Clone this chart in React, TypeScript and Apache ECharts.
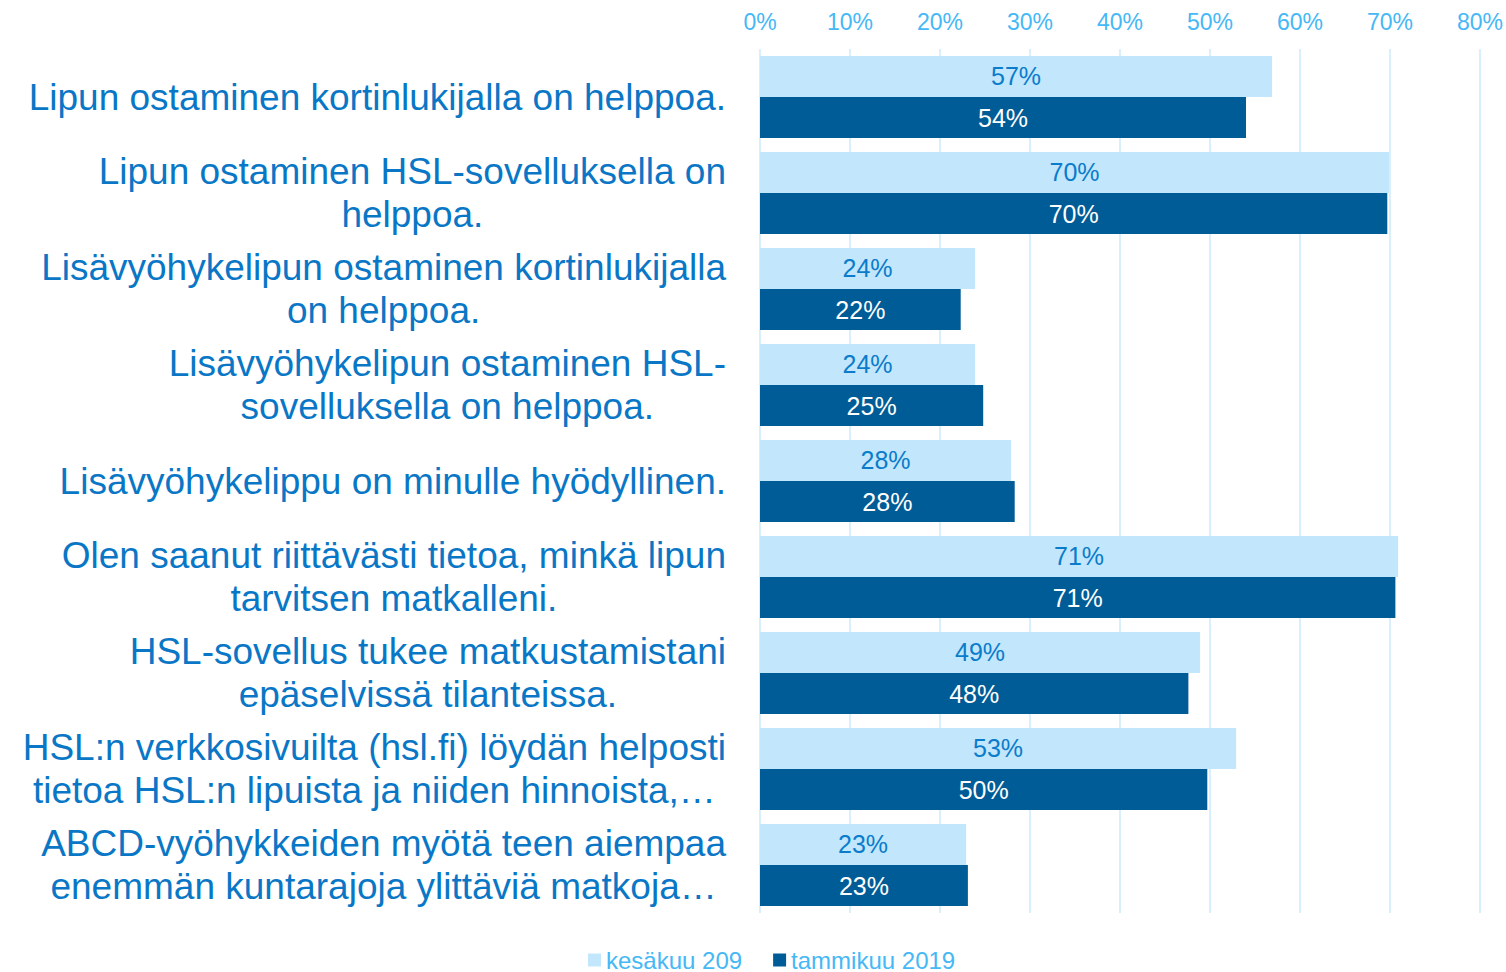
import React, { useEffect, useRef } from "react";
import * as echarts from "echarts";

const categories = [
  "Lipun ostaminen kortinlukijalla on helppoa.",
  "Lipun ostaminen HSL-sovelluksella on\nhelppoa.",
  "Lisävyöhykelipun ostaminen kortinlukijalla\non helppoa.",
  "Lisävyöhykelipun ostaminen HSL-\nsovelluksella on helppoa.",
  "Lisävyöhykelippu on minulle hyödyllinen.",
  "Olen saanut riittävästi tietoa, minkä lipun\ntarvitsen matkalleni.",
  "HSL-sovellus tukee matkustamistani\nepäselvissä tilanteissa.",
  "HSL:n verkkosivuilta (hsl.fi) löydän helposti\ntietoa HSL:n lipuista ja niiden hinnoista,…",
  "ABCD-vyöhykkeiden myötä teen aiempaa\nenemmän kuntarajoja ylittäviä matkoja…",
];

const seriesNames = ["kesäkuu 209", "tammikuu 2019"];
const summer2019 = [56.9, 69.9, 23.9, 23.9, 27.9, 70.9, 48.9, 52.9, 22.9];
const january2019 = [54.0, 69.7, 22.3, 24.8, 28.3, 70.6, 47.6, 49.7, 23.1];
const xTicks = { min: 0, max: 80, interval: 10 };

const FONT = "'Liberation Sans', Arial, sans-serif";

export default function App() {
  const ref = useRef<HTMLDivElement>(null);
  useEffect(() => {
    document.body.style.margin = "0";
    const chart = echarts.init(ref.current!, null, { renderer: "svg" });
    chart.setOption({
      animation: false,
      textStyle: { fontFamily: FONT },
      grid: { left: 760, right: 26, top: 49, bottom: 59, containLabel: false },
      legend: {
        data: seriesNames,
        top: 948,
        left: 588,
        padding: 0,
        icon: "rect",
        itemWidth: 13,
        itemHeight: 13,
        itemGap: 31,
        textStyle: { fontSize: 24, lineHeight: 24, color: "#45B8F5", fontFamily: FONT },
      },
      xAxis: {
        type: "value",
        position: "top",
        min: xTicks.min,
        max: xTicks.max,
        interval: xTicks.interval,
        axisLine: { show: false },
        axisTick: { show: false },
        splitLine: { show: true, lineStyle: { color: "#D9EFFC", width: 2 } },
        axisLabel: {
          formatter: "{value}%",
          color: "#45B8F5",
          fontSize: 23,
          margin: 16,
          fontFamily: FONT,
        },
      },
      yAxis: {
        type: "category",
        data: categories,
        inverse: true,
        axisLine: { show: false },
        axisTick: { show: false },
        axisLabel: {
          margin: 34,
          align: "right",
          formatter: (v: string) =>
            v
              .split("\n")
              .map((l) => `{c|${l}}`)
              .join("\n"),
          rich: {
            c: {
              align: "center",
              fontSize: 37,
              lineHeight: 43,
              color: "#0A77C6",
              fontFamily: FONT,
            },
          },
        },
      },
      series: [
        {
          name: seriesNames[0],
          type: "bar",
          data: summer2019,
          barGap: "0%",
          barCategoryGap: "14.5%",
          itemStyle: { color: "#C2E6FB" },
          label: {
            show: true,
            position: "inside",
            color: "#0A7CCB",
            fontSize: 25,
            fontFamily: FONT,
            formatter: (p: any) => `${Math.round(p.value)}%`,
          },
        },
        {
          name: seriesNames[1],
          type: "bar",
          data: january2019,
          barGap: "0%",
          barCategoryGap: "14.5%",
          itemStyle: { color: "#005C96" },
          label: {
            show: true,
            position: "inside",
            color: "#FFFFFF",
            fontSize: 25,
            fontFamily: FONT,
            formatter: (p: any) => `${Math.round(p.value)}%`,
          },
        },
      ],
    });
    return () => chart.dispose();
  }, []);
  return <div ref={ref} style={{ width: 1506, height: 972 }} />;
}
